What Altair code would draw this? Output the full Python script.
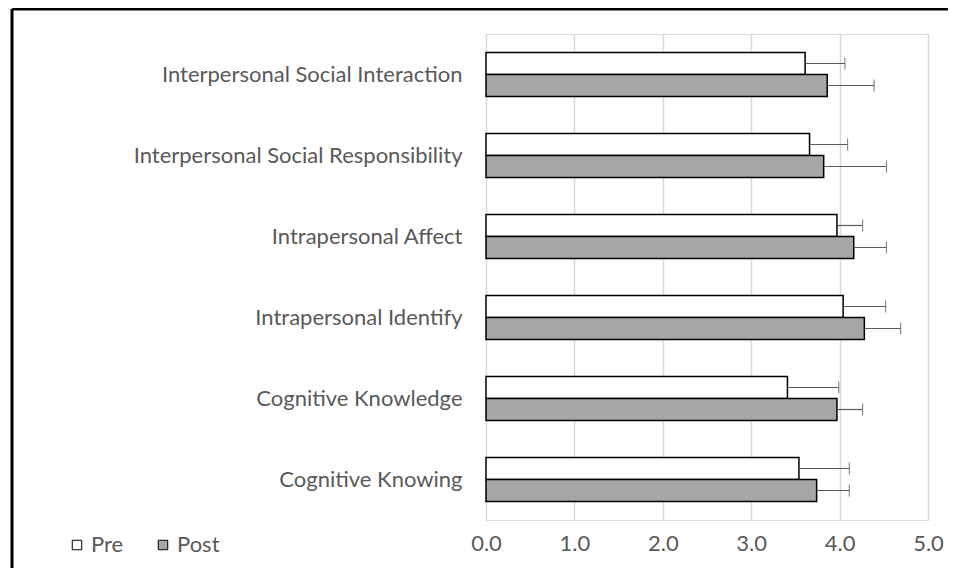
import altair as alt
import pandas as pd

categories = [
    "Interpersonal Social Interaction",
    "Interpersonal Social Responsibility",
    "Intrapersonal Affect",
    "Intrapersonal Identify",
    "Cognitive Knowledge",
    "Cognitive Knowing",
]
series = ["Pre", "Post"]
pre_mean = [3.61, 3.66, 3.97, 4.04, 3.41, 3.54]
pre_sd = [0.45, 0.43, 0.29, 0.48, 0.58, 0.57]
post_mean = [3.86, 3.82, 4.16, 4.28, 3.97, 3.74]
post_sd = [0.53, 0.71, 0.37, 0.41, 0.29, 0.37]
x_ticks = [0, 1, 2, 3, 4, 5]

rows = []
for i, c in enumerate(categories):
    rows.append({"category": c, "series": "Pre", "mean": pre_mean[i], "sd": pre_sd[i]})
    rows.append({"category": c, "series": "Post", "mean": post_mean[i], "sd": post_sd[i]})
df = pd.DataFrame(rows)

FONT = "Lato"
GREY = "#595959"
FS = 22

y_enc = alt.Y(
    "category:N",
    sort=categories,
    scale=alt.Scale(paddingInner=0.456, paddingOuter=0.228),
    axis=alt.Axis(
        title=None, domain=False, ticks=False, labelLimit=0, labelPadding=24,
        labelFontSize=FS, labelFont=FONT, labelColor=GREY, grid=False,
    ),
)
yoff = alt.YOffset("series:N", sort=series,
                   scale=alt.Scale(domain=series, paddingInner=0, paddingOuter=0))
x_scale = alt.Scale(domain=[0, 5], nice=False)

base = alt.Chart(df)

bars = base.mark_bar(stroke="black", strokeWidth=1.5).encode(
    x=alt.X("mean:Q", scale=x_scale,
            axis=alt.Axis(values=x_ticks, format=".1f", title=None, domain=False, ticks=False,
                          labelFlush=False,
                          labelFontSize=FS, labelFont=FONT, labelColor=GREY, labelPadding=13,
                          grid=True, gridColor="#d9d9d9", gridWidth=1.5)),
    y=y_enc,
    yOffset=yoff,
    fill=alt.Fill("series:N", sort=series,
                  scale=alt.Scale(domain=series, range=["white", "#a6a6a6"]),
                  legend=alt.Legend(orient="none", legendX=-420, legendY=500,
                                    direction="horizontal", title=None,
                                    symbolType="square", symbolSize=90,
                                    symbolStrokeColor="black", symbolStrokeWidth=1,
                                    labelFontSize=FS, labelFont=FONT, labelColor=GREY,
                                    columnPadding=28, labelOffset=3)),
)

err = base.transform_calculate(end="datum.mean + datum.sd")

err_rule = err.mark_rule(color=GREY, strokeWidth=1.2).encode(
    x=alt.X("mean:Q", scale=x_scale),
    x2="end:Q",
    y=y_enc,
    yOffset=yoff,
)
err_cap = err.mark_tick(color=GREY, orient="vertical", size=12, thickness=1.2).encode(
    x=alt.X("end:Q", scale=x_scale),
    y=y_enc,
    yOffset=yoff,
)

frame_data = alt.Data(values=[{"a": 1}])
frame_left = alt.Chart(frame_data).mark_rule(color="black", strokeWidth=3).encode(
    x=alt.value(-474), y=alt.value(-25), y2=alt.value(540)
)
frame_top = alt.Chart(frame_data).mark_rule(color="black", strokeWidth=3).encode(
    x=alt.value(-474), x2=alt.value(470), y=alt.value(-25)
)

chart = alt.layer(bars, err_rule, err_cap, frame_left, frame_top).properties(
    width=442, height=486,
    padding={"left": 478, "top": 26, "right": 20, "bottom": 48},
    autosize=alt.AutoSizeParams(type="none"),
).configure_view(strokeWidth=0).configure(background="white")

chart.save("out.html", embed_options={"renderer": "svg", "actions": False})
